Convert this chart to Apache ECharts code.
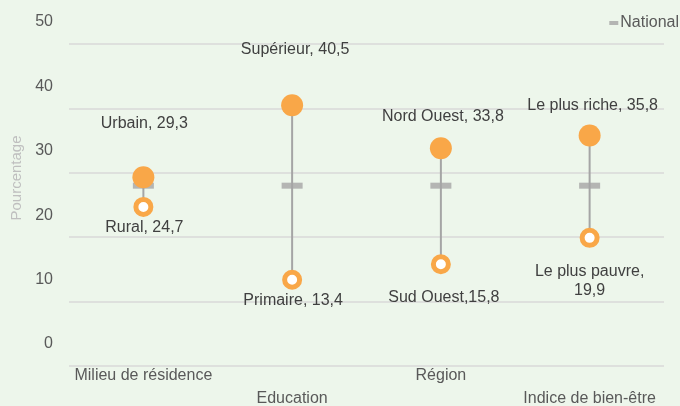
<!DOCTYPE html>
<html lang="fr" style="width: 100%;height:100%">
    <head>
        <meta charset="UTF-8">
        <title>Pourcentage par groupe</title>
        <script src="https://cdn.jsdelivr.net/npm/echarts@6.0.0/dist/echarts.min.js"></script>
    </head>
    <body style="width: 100%;height:100%;margin:0;background:#edf6eb">
        <div id="chart" style="width: 680px;height:406px"></div>
        <script>
            // catégories et valeurs
            const categories = ['Milieu de résidence', 'Education', 'Région', 'Indice de bien-être'];
            const highNames = ['Urbain', 'Supérieur', 'Nord Ouest', 'Le plus riche'];
            const highValues = [29.3, 40.5, 33.8, 35.8];
            const lowNames = ['Rural', 'Primaire', 'Sud Ouest', 'Le plus pauvre'];
            const lowValues = [24.7, 13.4, 15.8, 19.9];
            const lowSep = [', ', ', ', ',', ',\n'];
            const nationalValues = [28.0, 28.0, 28.0, 28.0];

            // décalage des étiquettes (style)
            const highOffsets = [[1, -54], [3, -56], [2, -32], [3, -30]];
            const lowOffsets = [[1, 21], [1, 21], [3, 33], [0, 43]];

            const orange = '#f9a748';
            const grey = '#a5a5a5';
            const txt = '#404040';
            const fmt = v => v.toFixed(1).replace('.', ',');

            const myChart = echarts.init(document.getElementById('chart'));

            const option = {
                backgroundColor: '#edf6eb',
                textStyle: { fontFamily: 'Liberation Sans, Arial, sans-serif' },
                legend: {
                    data: ['National'],
                    right: -4,
                    top: 10,
                    itemWidth: 9,
                    itemHeight: 4,
                    itemGap: 2,
                    icon: 'rect',
                    textStyle: { color: '#595959', fontSize: 16, padding: [0, 0, 0, -3] }
                },
                grid: { left: 69, right: 16, top: 44, bottom: 40, outerBoundsMode: 'none', containLabel: false },
                graphic: [{
                    type: 'text',
                    x: 17,
                    y: 178,
                    rotation: Math.PI / 2,
                    style: {
                        text: 'Pourcentage',
                        fill: '#bfbfbf',
                        fontSize: 15,
                        fontFamily: 'Liberation Sans, Arial, sans-serif',
                        align: 'center',
                        verticalAlign: 'middle'
                    }
                }],
                xAxis: {
                    type: 'category',
                    data: categories,
                    axisLine: { show: false },
                    axisTick: { show: false },
                    axisLabel: {
                        color: '#595959',
                        fontSize: 16,
                        margin: -2,
                        lineHeight: 23,
                        interval: 0,
                        formatter: (v, i) => (i % 2 ? '\n' + v : v)
                    }
                },
                yAxis: {
                    type: 'value',
                    min: 0,
                    max: 50,
                    interval: 10,
                    axisLine: { show: false },
                    axisTick: { show: false },
                    axisLabel: {
                        color: '#595959',
                        margin: 16,
                        formatter: '{a|{value}}',
                        rich: { a: { fontSize: 16, color: '#595959', padding: [0, 0, 44, 0] } }
                    },
                    splitLine: { lineStyle: { color: '#d9d9d9', width: 1.5 } }
                },
                series: [
                    {
                        name: 'base',
                        type: 'bar',
                        stack: 'range',
                        silent: true,
                        barWidth: 2,
                        itemStyle: { color: 'transparent' },
                        data: lowValues
                    },
                    {
                        name: 'range',
                        type: 'bar',
                        stack: 'range',
                        silent: true,
                        barWidth: 2,
                        itemStyle: { color: grey },
                        data: highValues.map((h, i) => +(h - lowValues[i]).toFixed(1))
                    },
                    {
                        name: 'National',
                        type: 'scatter',
                        symbol: 'rect',
                        symbolSize: [21, 6],
                        itemStyle: { color: grey },
                        z: 3,
                        data: nationalValues
                    },
                    {
                        name: 'Haut',
                        type: 'scatter',
                        symbolSize: 22,
                        itemStyle: { color: orange, opacity: 1 },
                        z: 4,
                        label: {
                            show: true,
                            color: txt,
                            fontSize: 16,
                            formatter: p => highNames[p.dataIndex] + ', ' + fmt(highValues[p.dataIndex])
                        },
                        data: highValues.map((v, i) => ({
                            value: v,
                            label: { position: 'inside', offset: highOffsets[i] }
                        }))
                    },
                    {
                        name: 'Bas',
                        type: 'scatter',
                        symbolSize: 15,
                        itemStyle: { color: '#ffffff', borderColor: orange, borderWidth: 5, opacity: 1 },
                        z: 4,
                        label: {
                            show: true,
                            color: txt,
                            fontSize: 16,
                            lineHeight: 19,
                            formatter: p => lowNames[p.dataIndex] + lowSep[p.dataIndex] + fmt(lowValues[p.dataIndex])
                        },
                        data: lowValues.map((v, i) => ({
                            value: v,
                            label: { position: 'inside', offset: lowOffsets[i] }
                        }))
                    }
                ]
            };

            myChart.setOption(option);
        </script>
    </body>
</html>
